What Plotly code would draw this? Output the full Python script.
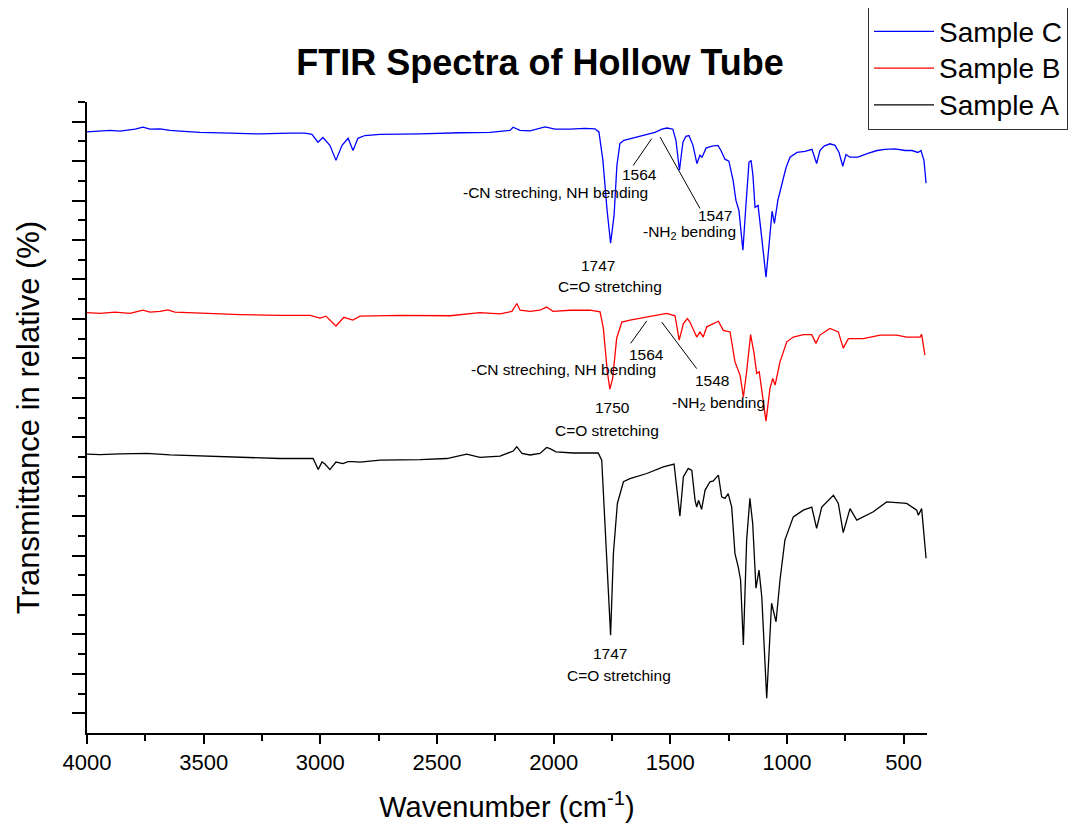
import plotly.graph_objects as go

# ---------------- data (wavenumber cm-1, relative transmittance) ----------------
wn_c = [4000, 3944, 3901, 3859, 3794, 3760, 3730, 3687, 3644, 3601, 3516, 3387, 3259, 3130, 3066,
        3036, 3010, 2989, 2959, 2933, 2907, 2881, 2860, 2839, 2809, 2744, 2573, 2401, 2273, 2187,
        2174, 2144, 2101, 2037, 1994, 1930, 1866, 1823, 1806, 1789, 1771, 1756, 1741, 1729, 1716,
        1699, 1651, 1609, 1566, 1536, 1514, 1489, 1476, 1461, 1446, 1433, 1420, 1403, 1386, 1373,
        1364, 1347, 1321, 1296, 1283, 1266, 1249, 1231, 1219, 1206, 1189, 1176, 1163, 1154, 1146,
        1137, 1124, 1107, 1090, 1077, 1064, 1054, 1039, 1021, 1004, 987, 957, 923, 893, 873, 859,
        841, 816, 794, 777, 761, 747, 730, 696, 653, 614, 580, 537, 494, 464, 439, 426, 413, 404]
t_c = [152.4, 152.6, 152.8, 152.6, 153.1, 153.6, 153.1, 153.2, 152.8, 152.6, 152.3, 152.1, 151.9, 152.1, 152.1,
       151.8, 149.8, 151.0, 149.0, 145.2, 149.0, 150.8, 147.7, 150.8, 151.5, 151.8, 151.9, 152.2, 152.3, 152.8,
       153.6, 152.8, 152.7, 153.7, 153.1, 153.1, 153.3, 153.2, 152.4, 145.2, 132.5, 124.2, 131.3, 143.9, 149.5,
       150.3, 151.0, 151.5, 152.3, 153.1, 153.4, 153.1, 150.3, 142.7, 149.8, 151.3, 151.5, 149.0, 144.4, 146.5,
       146.0, 148.3, 148.8, 149.0, 147.7, 145.5, 145.0, 140.1, 135.1, 132.5, 122.4, 133.8, 144.7, 145.2, 141.4,
       133.3, 133.8, 124.9, 115.6, 123.7, 132.3, 129.2, 135.1, 139.4, 143.4, 146.0, 147.2, 147.5, 148.0, 144.4, 147.7,
       148.8, 149.4, 149.0, 147.2, 143.7, 146.7, 146.0, 146.0, 147.0, 147.7, 148.0, 148.1, 147.7, 147.7, 147.2, 147.7, 145.2, 139.4]

wn_b = [4000, 3944, 3880, 3816, 3760, 3730, 3687, 3653, 3623, 3516, 3344, 3173, 3044, 3001, 2976,
        2933, 2899, 2861, 2830, 2659, 2444, 2316, 2230, 2179, 2158, 2144, 2101, 2059, 2030, 2003,
        1930, 1844, 1801, 1787, 1770, 1759, 1747, 1730, 1708, 1673, 1601, 1558, 1516, 1480, 1462,
        1444, 1427, 1416, 1387, 1373, 1359, 1344, 1294, 1273, 1244, 1223, 1201, 1187, 1173, 1156,
        1141, 1130, 1119, 1090, 1073, 1061, 1051, 1030, 1001, 973, 930, 894, 876, 859, 816,
        780, 759, 737, 673, 601, 530, 487, 430, 423, 409]
t_b = [106.6, 106.4, 106.7, 106.4, 107.2, 106.7, 106.9, 107.3, 106.7, 106.4, 106.1, 105.9, 105.9, 105.2, 105.7,
       103.2, 105.4, 104.7, 105.7, 105.9, 105.8, 106.6, 106.3, 106.9, 108.9, 107.2, 106.9, 107.2, 108.0, 106.9,
       107.2, 107.2, 106.8, 102.6, 91.6, 87.2, 90.0, 100.1, 104.2, 104.7, 105.5, 106.1, 106.4, 105.8, 99.6,
       103.8, 105.1, 104.2, 100.4, 101.7, 100.4, 103.0, 104.4, 102.1, 101.7, 94.1, 90.7, 85.2, 91.6, 101.0,
       96.2, 91.2, 91.6, 79.1, 87.4, 89.9, 88.2, 94.1, 99.2, 100.4, 101.0, 101.0, 98.8, 100.9, 102.6,
       101.7, 97.6, 100.0, 100.0, 100.9, 100.9, 100.4, 100.4, 101.1, 95.8]

wn_a = [4000, 3944, 3859, 3744, 3644, 3460, 3301, 3173, 3031, 3009, 2993, 2980, 2959, 2933, 2903,
        2881, 2860, 2830, 2744, 2573, 2458, 2373, 2316, 2230, 2173, 2158, 2136, 2101, 2059, 2030,
        2016, 1990, 1916, 1844, 1809, 1794, 1780, 1768, 1756, 1744, 1727, 1701, 1673, 1601, 1530,
        1484, 1473, 1459, 1444, 1423, 1408, 1394, 1387, 1379, 1366, 1351, 1330, 1316, 1294, 1280,
        1266, 1252, 1237, 1223, 1209, 1199, 1187, 1173, 1159, 1147, 1133, 1120, 1108, 1087, 1066,
        1047, 1030, 1009, 973, 930, 894, 873, 851, 801, 780, 759, 730, 701, 630, 573,
        487, 444, 437, 423, 404]
t_a = [70.7, 70.6, 70.8, 70.9, 70.5, 70.2, 69.9, 69.6, 69.6, 66.8, 68.7, 68.2, 66.8, 68.7, 68.3,
       68.8, 68.8, 68.7, 69.2, 69.3, 69.6, 70.7, 69.9, 70.2, 71.5, 72.6, 70.9, 70.5, 70.9, 72.4,
       72.1, 71.3, 71.0, 71.1, 71.0, 69.2, 53.1, 36.2, 24.8, 45.5, 58.2, 63.7, 64.5, 65.8, 67.5,
       68.2, 61.6, 55.0, 65.0, 67.1, 66.6, 59.0, 57.3, 59.0, 56.7, 61.6, 63.7, 63.9, 65.4, 59.9,
       59.5, 60.7, 57.3, 45.5, 42.1, 38.8, 22.3, 48.9, 59.5, 53.1, 36.7, 41.3, 34.5, 8.8, 32.9,
       28.2, 38.8, 48.9, 54.8, 56.5, 57.3, 51.9, 57.3, 60.3, 58.2, 50.8, 56.9, 54.0, 56.1, 58.6,
       58.2, 56.5, 55.2, 56.9, 44.3]

series_names = ["Sample C", "Sample B", "Sample A"]
series_colors = ["#0000ff", "#ff0000", "#000000"]

# peak annotations: text, wavenumber, transmittance
ann_text = ["1564", "-CN streching, NH bending", "1547", "-NH<sub>2</sub> bending", "1747", "C=O stretching",
            "1564", "-CN streching, NH bending", "1548", "-NH<sub>2</sub> bending", "1750", "C=O stretching",
            "1747", "C=O stretching"]
ann_wn = [1634, 1994, 1309, 1416, 1809, 1759,
          1604, 1959, 1323, 1294, 1747, 1773,
          1759, 1719]
ann_t = [141.7, 137.0, 131.3, 126.9, 118.6, 113.3,
         96.0, 92.2, 89.3, 83.6, 82.5, 76.8,
         20.2, 14.7]

# leader lines: (wn0, t0, wn1, t1)
lead_wn0 = [1659, 1544, 1670, 1537]
lead_t0 = [143.9, 151.1, 98.8, 104.2]
lead_wn1 = [1580, 1373, 1601, 1387]
lead_t1 = [150.7, 133.0, 104.5, 92.4]

x_ticks = [4000, 3500, 3000, 2500, 2000, 1500, 1000, 500]
x_minor = [3750, 3250, 2750, 2250, 1750, 1250, 750]
y_major = [5 + 10 * k for k in range(16)]
y_minor = [10 * k for k in range(1, 17)]

FONT = "Arial, Liberation Sans, sans-serif"

fig = go.Figure()
for name, color, xs, ys in zip(series_names, series_colors, [wn_c, wn_b, wn_a], [t_c, t_b, t_a]):
    fig.add_trace(go.Scatter(x=xs, y=ys, mode="lines",
                             name="<span style='font-size:28px'>" + name + "</span>",
                             line=dict(color=color, width=1.3)))

for txt, xw, yt in zip(ann_text, ann_wn, ann_t):
    fig.add_annotation(x=xw, y=yt, xref="x", yref="y", text=txt, showarrow=False,
                       font=dict(family=FONT, size=15.5, color="black"),
                       xanchor="center", yanchor="middle")

for x0, y0, x1, y1 in zip(lead_wn0, lead_t0, lead_wn1, lead_t1):
    fig.add_shape(type="line", xref="x", yref="y", x0=x0, y0=y0, x1=x1, y1=y1,
                  line=dict(color="black", width=1))

fig.update_layout(
    width=1077, height=825,
    paper_bgcolor="white", plot_bgcolor="white",
    margin=dict(l=79, r=158, t=94, b=100, autoexpand=False),
    font=dict(family=FONT, color="black"),
    title=dict(text="<b>FTIR Spectra of Hollow Tube</b>", x=0.494, xref="container",
               y=0.9345, yref="container", xanchor="center", yanchor="middle",
               font=dict(family=FONT, size=36, color="black")),
    legend=dict(x=0.9298, y=1.1506, xref="paper", yref="paper", xanchor="left", yanchor="top",
                bordercolor="#333333", borderwidth=1, bgcolor="white",
                font=dict(family=FONT, size=26, color="black"),
                itemwidth=60, tracegroupgap=0),
    showlegend=True,
)
fig.update_xaxes(
    range=[4000, 400], showgrid=False, zeroline=False,
    showline=True, linecolor="black", linewidth=2,
    ticks="outside", ticklen=9, tickwidth=2, tickcolor="black",
    tickmode="array", tickvals=x_ticks, ticktext=[str(v) for v in x_ticks],
    tickfont=dict(family=FONT, size=22, color="black"),
    minor=dict(tickmode="array", tickvals=x_minor, ticks="outside", ticklen=6,
               tickwidth=2, tickcolor="black", showgrid=False),
    title=dict(text="Wavenumber (cm<sup>-1</sup>)", font=dict(family=FONT, size=29, color="black"),
               standoff=22),
)
fig.update_yaxes(
    range=[0, 160], showgrid=False, zeroline=False,
    showline=True, linecolor="black", linewidth=2,
    ticks="outside", ticklen=13, tickwidth=2, tickcolor="black",
    tickmode="array", tickvals=y_major, showticklabels=False,
    minor=dict(tickmode="array", tickvals=y_minor, ticks="outside", ticklen=7,
               tickwidth=2, tickcolor="black", showgrid=False),
    title=dict(text="Transmittance in relative (%)", font=dict(family=FONT, size=31, color="black"),
               standoff=23),
)

fig.write_html("out.html")
